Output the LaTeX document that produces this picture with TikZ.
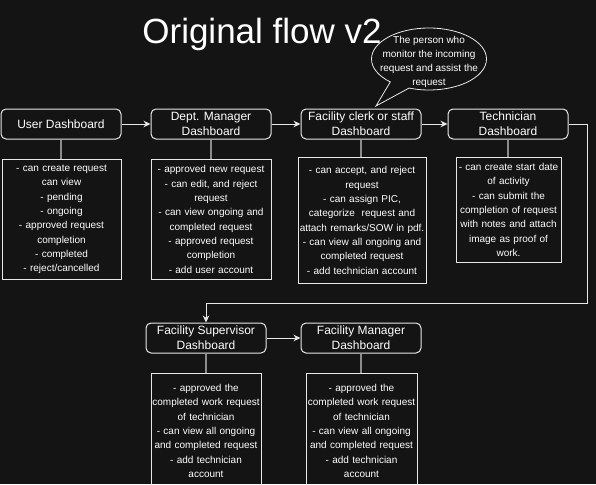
\documentclass[tikz,border=0pt]{standalone}
\usepackage{fontspec}
\setmainfont{Liberation Sans}
\usetikzlibrary{arrows.meta,shapes.callouts}
\definecolor{bgdark}{HTML}{141414}
\definecolor{edge}{HTML}{E8E8E8}
\definecolor{stem}{HTML}{8C8C8C}
\begin{document}
\begin{tikzpicture}[x=1pt,y=-1pt,
    head/.style={draw=edge, line width=1pt, rounded corners=5pt, text=white, align=center,
      minimum width=120pt, minimum height=30pt, inner sep=0pt, font=\fontsize{12}{15}\selectfont},
    desc/.style={draw=edge, line width=0.9pt, text=white, align=center, anchor=north,
      inner sep=0pt, font=\fontsize{10}{14.3}\selectfont},
    link/.style={draw=edge, line width=0.9pt, -{Stealth[length=7pt,width=6.5pt]}},
    stemline/.style={draw=stem, line width=1.3pt}]
    \fill[bgdark] (0,0) rectangle (596,484);
    \clip (0,0) rectangle (596,484);

    \node[text=white, anchor=base, font=\fontsize{35}{40}\selectfont] (title) at (262,44) {Original flow v2};

    % top row
    \node[head] (user) at (61,124) {User Dashboard};
    \node[head] (dept) at (211,124) {Dept. Manager\\Dashboard};
    \node[head] (clerk) at (361,124) {Facility clerk or staff\\Dashboard};
    \node[head] (tech) at (508,124) {Technician\\Dashboard};

    % bottom row
    \node[head] (sup) at (206,338) {Facility Supervisor\\Dashboard};
    \node[head] (mgr) at (361,338) {Facility Manager\\Dashboard};

    \node[desc, text width=119pt, minimum height=120pt] (userdesc) at (61.5,159) {- can create request\\can view\\- pending\\- ongoing\\- approved request\\completion\\- completed\\- reject/cancelled};
    \node[desc, text width=120pt, minimum height=120pt] (deptdesc) at (211,159) {- approved new request\\- can edit, and reject\\request\\- can view ongoing and\\completed request\\- approved request\\completion\\- add user account};
    \node[desc, text width=128pt, minimum height=126pt] (clerkdesc) at (362,157) {- can accept, and reject\\request\\- can assign PIC,\\categorize\ \ request and\\attach remarks/SOW in pdf.\\- can view all ongoing and\\completed request\\- add technician account};
    \node[desc, text width=105pt, minimum height=105pt] (techdesc) at (508.5,157) {- can create start date\\of activity\\- can submit the\\completion of request\\with notes and attach\\image as proof of\\work.};
    \node[desc, text width=110pt, minimum height=115pt] (supdesc) at (206,373) {- approved the\\completed work request\\of technician\\- can view all ongoing\\and completed request\\- add technician\\account};
    \node[desc, text width=111pt, minimum height=115pt] (mgrdesc) at (361.5,373) {- approved the\\completed work request\\of technician\\- can view all ongoing\\and completed request\\- add technician\\account};

    % note bubble
    \node[ellipse callout, draw=edge, line width=0.8pt, minimum width=115pt, minimum height=62pt,
      inner sep=0pt, callout pointer arc=22, callout absolute pointer={(376,106)}] (note) at (429,59) {};
    \node[text=white, align=center, inner sep=0pt, font=\fontsize{10}{14}\selectfont] (notetext) at (429,62)
      {The person who\\monitor the incoming\\request and assist the\\request};

    % flow
    \draw[link] (user) -- (dept);
    \draw[link] (dept) -- (clerk);
    \draw[link] (clerk) -- (tech);
    \coordinate (turn) at (587,303);
    \draw[link] (tech.east) -| (turn) -| (sup.north);
    \draw[link] (sup) -- (mgr);

    \foreach \h in {user, dept, clerk, tech, sup, mgr}
      \draw[stemline] (\h.south) -- (\h.south |- \h desc.north);
\end{tikzpicture}
\end{document}
